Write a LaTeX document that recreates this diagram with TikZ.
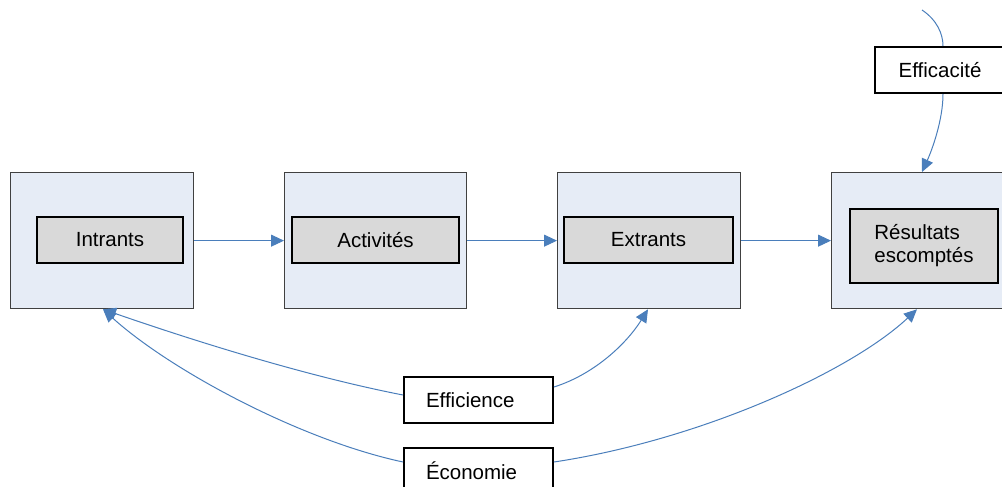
\documentclass[tikz,border=0pt]{standalone}
\usepackage{fontspec}
\setmainfont{Liberation Sans}
\usetikzlibrary{arrows.meta}
\definecolor{arrowblue}{HTML}{4A7EBB}
\definecolor{outerfill}{HTML}{E6ECF6}
\definecolor{innerfill}{HTML}{D9D9D9}
\definecolor{outerdraw}{HTML}{404040}
\tikzset{
  outerbox/.style={draw=outerdraw, fill=outerfill, line width=1.3pt, anchor=north west, inner sep=0pt},
  innerbox/.style={draw=black, fill=innerfill, line width=2pt, anchor=north west, inner sep=0pt, font=\fontsize{20.5}{23}\selectfont},
  labelbox/.style={draw=black, fill=white, line width=2pt, anchor=north west, inner sep=0pt, font=\fontsize{20.5}{23}\selectfont},
  conn/.style={draw=arrowblue, line width=1pt},
  arr/.style={conn, -{Triangle[length=13pt,width=12pt]}}
}
\begin{document}
\begin{tikzpicture}[x=1pt,y=-1pt]
\useasboundingbox (0,0) rectangle (1002,487);
% outer boxes
\node[outerbox, minimum width=183pt, minimum height=136pt] (o1) at (10,172) {};
\node[outerbox, minimum width=182pt, minimum height=136pt] (o2) at (284,172) {};
\node[outerbox, minimum width=183pt, minimum height=136pt] (o3) at (557,172) {};
\node[outerbox, minimum width=183pt, minimum height=136pt] (o4) at (831,172) {};
% inner boxes
\node[innerbox, minimum width=146pt, minimum height=46pt] (i1) at (36,216) {Intrants};
\node[innerbox, minimum width=167pt, minimum height=46pt] (i2) at (291,216) {Activités};
\node[innerbox, minimum width=169pt, minimum height=46pt] (i3) at (563,216) {Extrants};
\node[innerbox, minimum width=148pt, minimum height=74pt, align=left] (i4) at (849,208) {Résultats\\escomptés};
% label boxes
\node[labelbox, minimum width=130pt, minimum height=46pt] (eff) at (874,46) {Efficacité};
\node[labelbox, minimum width=149pt, minimum height=46pt, text width=105pt, align=left] (efi) at (403,376) {Efficience};
\node[labelbox, minimum width=149pt, minimum height=46pt, text width=105pt, align=left] (eco) at (403,447) {Économie};
% horizontal arrows
\draw[arr] (o1.east) -- (o2.west);
\draw[arr] (o2.east) -- (o3.west);
\draw[arr] (o3.east) -- (o4.west);
% efficacité
\coordinate (top) at (922,10);
\draw[conn] (top) .. controls (937,20) and (943,34) .. (eff.north -| 943,0);
\draw[arr] (eff.south -| 943,0) .. controls (943,120) and (932,150) .. (o4.north -| 922,0);
% efficience
\draw[arr] (efi.west |- 0,395) .. controls (300,375) and (180,336) .. (o1.south -| 103,0);
\draw[arr] (efi.east |- 0,387) .. controls (595,374) and (627,343) .. (o3.south -| 648,0);
% économie
\draw[arr] (eco.west |- 0,462) .. controls (300,440) and (170,370) .. (o1.south -| 103,0);
\draw[arr] (eco.east |- 0,462) .. controls (700,440) and (850,372) .. (o4.south -| 917,0);
\end{tikzpicture}
\end{document}
